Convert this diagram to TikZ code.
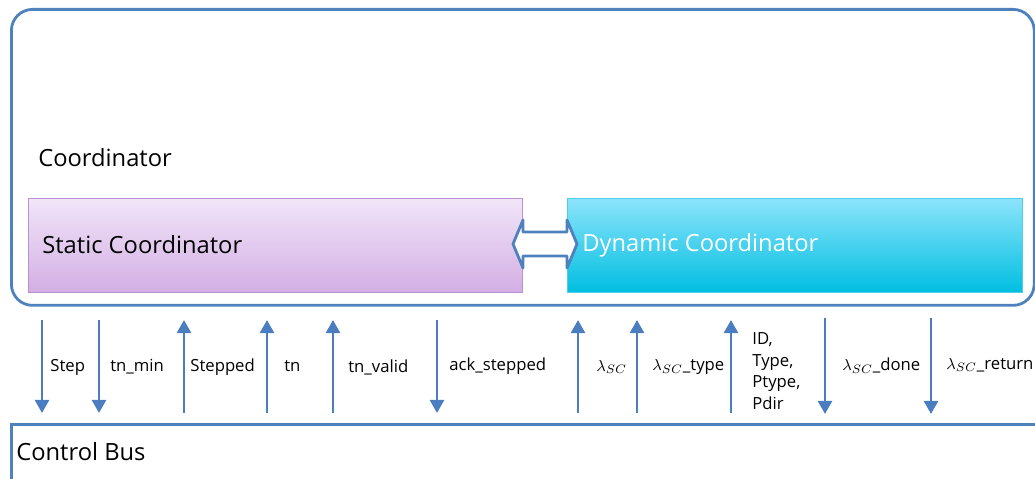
\documentclass[tikz,border=0pt]{standalone}
\usepackage{fontspec}
\setmainfont{Open Sans}
\usetikzlibrary{arrows.meta,positioning}
\definecolor{frameblue}{RGB}{79,129,189}
\definecolor{sigblue}{RGB}{74,126,192}
\definecolor{statictop}{RGB}{241,229,248}
\definecolor{staticbot}{RGB}{211,174,228}
\definecolor{staticedge}{RGB}{185,146,210}
\definecolor{dyntop}{RGB}{140,228,251}
\definecolor{dynbot}{RGB}{0,190,225}
\definecolor{dynedge}{RGB}{80,205,235}
\tikzset{
  outerbox/.style={draw=frameblue, line width=1.6pt, rounded corners=12pt, anchor=north west, inner sep=0pt},
  busbox/.style={draw=frameblue, line width=1.6pt, anchor=north west, inner sep=0pt},
  staticbox/.style={draw=staticedge, line width=0.6pt, top color=statictop, bottom color=staticbot, anchor=north west, inner sep=0pt},
  dynbox/.style={draw=dynedge, line width=0.6pt, top color=dyntop, bottom color=dynbot, anchor=north west, inner sep=0pt},
  biglabel/.style={anchor=west, inner sep=0pt, font=\fontsize{13.5}{16}\selectfont},
  siglabel/.style={anchor=west, inner sep=0pt, align=left, font=\fontsize{9.5}{12.2}\selectfont},
  sigarrow/.style={-{Triangle[length=7.5pt,width=8pt]}, draw=sigblue, line width=1.6pt},
  linkarrow/.style={draw=frameblue, fill=white, line width=1.6pt, line join=round}
}

\begin{document}
\begin{tikzpicture}[x=0.02cm, y=-0.02cm]
\useasboundingbox (0,0) rectangle (1035,479);
% boxes
\node[outerbox, minimum width=20.46cm, minimum height=5.92cm] (coord) at (10,8) {};
\node[biglabel] (coordname) at (38,158) {Coordinator};
\node[staticbox, minimum width=9.88cm, minimum height=1.88cm] (static) at (28,198) {};
\node[biglabel] (staticname) at (42,245) {Static Coordinator};
\node[dynbox, minimum width=9.1cm, minimum height=1.88cm] (dynamic) at (567,198) {};
\node[biglabel, text=white] (dynname) at (582,245) {Dynamic Coordinator};
\node[busbox, minimum width=20.9cm, minimum height=1.8cm] (bus) at (10,423) {};
\node[biglabel] (busname) at (16,452) {Control Bus};
% link between static and dynamic
\draw[linkarrow] (513,244) -- (523,220) -- (523,232) -- (567,232) -- (567,220) -- (577,244)
  -- (567,268) -- (567,256) -- (523,256) -- (523,268) -- cycle;
% signal ends
\coordinate (t1) at (42,320);  \coordinate (b1) at (42,413);
\coordinate (t2) at (99,320);  \coordinate (b2) at (99,413);
\coordinate (t3) at (184,320); \coordinate (b3) at (184,413);
\coordinate (t4) at (267,320); \coordinate (b4) at (267,413);
\coordinate (t5) at (333,320); \coordinate (b5) at (333,413);
\coordinate (t6) at (437,320); \coordinate (b6) at (437,413);
\coordinate (t7) at (578,320); \coordinate (b7) at (578,413);
\coordinate (t8) at (637,320); \coordinate (b8) at (637,413);
\coordinate (t9) at (731,320); \coordinate (b9) at (731,413);
\coordinate (t10) at (825,318); \coordinate (b10) at (825,414);
\coordinate (t11) at (931,318); \coordinate (b11) at (931,414);
% signals
\draw[sigarrow] (t1) -- (b1);
\draw[sigarrow] (t2) -- (b2);
\draw[sigarrow] (b3) -- (t3);
\draw[sigarrow] (b4) -- (t4);
\draw[sigarrow] (b5) -- (t5);
\draw[sigarrow] (t6) -- (b6);
\draw[sigarrow] (b7) -- (t7);
\draw[sigarrow] (b8) -- (t8);
\draw[sigarrow] (b9) -- (t9);
\draw[sigarrow] (t10) -- (b10);
\draw[sigarrow] (t11) -- (b11);
\node[siglabel] (lstep) at (50,367) {Step};
\node[siglabel] (ltnmin) at (110,367) {tn\_min};
\node[siglabel] (lstepped) at (190,367) {Stepped};
\node[siglabel] (ltn) at (284,366) {tn};
\node[siglabel] (ltnvalid) at (348,367) {tn\_valid};
\node[siglabel] (lack) at (449,366) {ack\_stepped};
\node[siglabel] (llam) at (596,367) {$\lambda_{SC}$};
\node[siglabel] (llamtype) at (652,367) {$\lambda_{SC}$\_type};
\node[siglabel] (lid) at (752,371) {ID,\\Type,\\Ptype,\\Pdir};
\node[siglabel] (llamdone) at (842,366) {$\lambda_{SC}$\_done};
\node[siglabel] (llamret) at (946,365) {$\lambda_{SC}$\_return};
\end{tikzpicture}
\end{document}
